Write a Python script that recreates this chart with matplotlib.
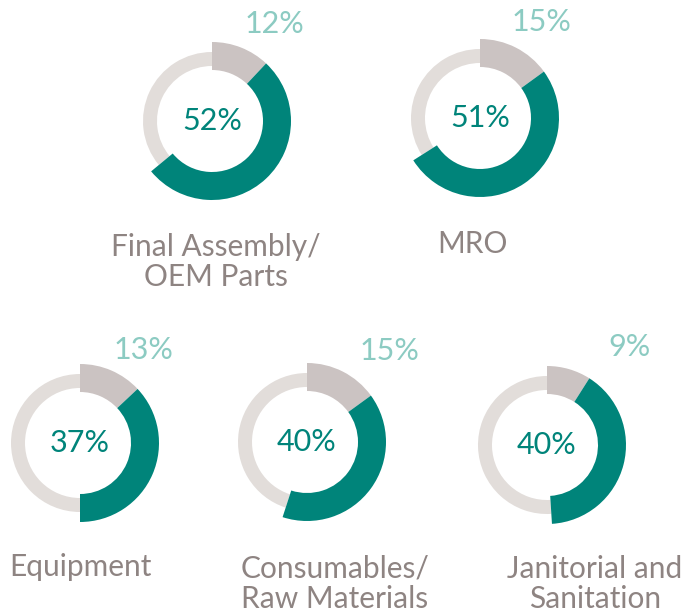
import matplotlib
matplotlib.use("Agg")
import matplotlib.pyplot as plt

# data
categories = ["Final Assembly/\nOEM Parts", "MRO", "Equipment",
              "Consumables/\nRaw Materials", "Janitorial and\nSanitation"]
main_share = [52, 51, 37, 40, 40]   # teal segment, number in the middle
top_share = [12, 15, 13, 15, 9]     # taupe segment, number above the ring

# layout (pixels, y from top)
centers = [(212, 121), (480, 118), (80, 443), (307, 442), (547, 445)]
top_label_pos = [(274, 24), (541, 22), (144, 350), (389, 351), (630, 347)]
cat_label_pos = [(216, 262), (472, 244), (80, 567), (335, 584), (595, 584)]

TEAL = "#00847a"
TAUPE = "#cbc3c2"
LIGHT = "#e2ddda"
TEAL_LIGHT = "#8ccbc2"
TEXT_GREY = "#8e8482"

W, H = 684, 613
plt.rcParams["font.family"] = ["Lato", "DejaVu Sans"]

fig = plt.figure(figsize=(W / 100, H / 100), dpi=100)
ax = fig.add_axes([0, 0, 1, 1])

R_OUT, R_W = 79, 28
G_OUT, G_W = 69, 14

for i, cat in enumerate(categories):
    cx, cy = centers[i]
    c = (cx, H - cy)
    vals = [top_share[i], main_share[i], 100 - top_share[i] - main_share[i]]
    # thin light ring for the remainder
    ax.pie(vals, colors=["none", "none", LIGHT], startangle=90, counterclock=False,
           radius=G_OUT, center=c, wedgeprops=dict(width=G_W, linewidth=0),
           frame=True)
    # thick taupe + teal segments
    ax.pie(vals, colors=[TAUPE, TEAL, "none"], startangle=90, counterclock=False,
           radius=R_OUT, center=c, wedgeprops=dict(width=R_W, linewidth=0),
           frame=True)
    ax.text(cx, H - cy, f"{main_share[i]}%", color=TEAL, fontsize=22,
            ha="center", va="center")
    tx, ty = top_label_pos[i]
    ax.text(tx, H - ty, f"{top_share[i]}%", color=TEAL_LIGHT, fontsize=22,
            ha="center", va="center")
    lx, ly = cat_label_pos[i]
    ax.text(lx, H - ly, cat, color=TEXT_GREY, fontsize=21.5,
            ha="center", va="center", linespacing=1.12)

ax.set_xlim(0, W)
ax.set_ylim(0, H)
ax.set_aspect("equal")
ax.axis("off")
fig.savefig("out.png", dpi=100)
